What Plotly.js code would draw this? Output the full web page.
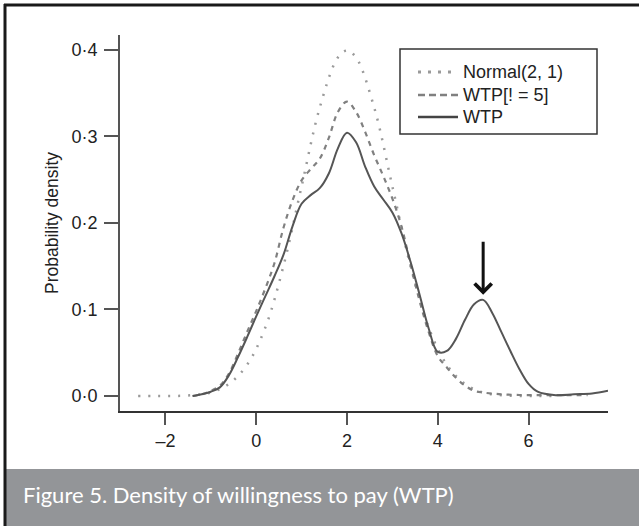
<!DOCTYPE html>
<html>
<head>
<meta charset="utf-8">
<script src="https://cdn.plot.ly/plotly-3.0.1.min.js"></script>
<style>
  html, body { margin: 0; padding: 0; background: #ffffff; }
  #chart { width: 639px; height: 526px; }
</style>
</head>
<body>
<div id="chart"></div>
<script>
// ---------------- data ----------------
const normalX = [-2.6, -2.2, -1.8, -1.4, -1.0, -0.6, -0.2, 0.2, 0.6, 1.0, 1.4, 1.8, 2.0, 2.2, 2.6, 3.0, 3.4, 3.8, 4.2, 4.6, 5.0, 5.4, 5.8, 6.2, 6.6];
const normalY = [0.000, 0.000, 0.000, 0.001, 0.004, 0.014, 0.036, 0.079, 0.150, 0.242, 0.333, 0.391, 0.399, 0.391, 0.333, 0.242, 0.150, 0.079, 0.036, 0.014, 0.004, 0.001, 0.000, 0.000, 0.000];

const wtpNo5X = [-1.4, -1.2, -1.0, -0.8, -0.6, -0.4, -0.2, 0.0, 0.2, 0.4, 0.6, 0.8, 1.0, 1.2, 1.4, 1.6, 1.8, 2.0, 2.2, 2.4, 2.6, 2.8, 3.0, 3.2, 3.4, 3.6, 3.8, 4.0, 4.2, 4.4, 4.6, 4.8, 5.0, 5.4, 6.0, 6.6, 7.3];
const wtpNo5Y = [0.000, 0.002, 0.006, 0.012, 0.026, 0.049, 0.074, 0.098, 0.124, 0.153, 0.194, 0.226, 0.249, 0.262, 0.274, 0.298, 0.328, 0.340, 0.328, 0.305, 0.278, 0.254, 0.228, 0.196, 0.152, 0.110, 0.074, 0.046, 0.033, 0.021, 0.012, 0.006, 0.004, 0.002, 0.001, 0.001, 0.001];

const wtpX = [-1.4, -1.2, -1.0, -0.8, -0.6, -0.4, -0.2, 0.0, 0.2, 0.4, 0.6, 0.8, 1.0, 1.2, 1.4, 1.6, 1.8, 2.0, 2.2, 2.4, 2.6, 2.8, 3.0, 3.2, 3.4, 3.6, 3.8, 4.0, 4.2, 4.4, 4.6, 4.8, 5.0, 5.2, 5.4, 5.6, 5.8, 6.0, 6.2, 6.6, 7.0, 7.4, 7.75];
const wtpY = [0.000, 0.002, 0.005, 0.010, 0.024, 0.045, 0.068, 0.092, 0.115, 0.138, 0.163, 0.196, 0.222, 0.232, 0.240, 0.257, 0.286, 0.304, 0.293, 0.265, 0.242, 0.227, 0.212, 0.188, 0.155, 0.117, 0.078, 0.051, 0.052, 0.066, 0.088, 0.106, 0.111, 0.096, 0.074, 0.052, 0.031, 0.014, 0.005, 0.001, 0.002, 0.003, 0.006];

const seriesNames = ['Normal(2, 1)', 'WTP[! = 5]', 'WTP'];
const xTickVals = [-2, 0, 2, 4, 6];
const xTickText = ['\u20132', '0', '2', '4', '6'];
const yTickVals = [0, 0.1, 0.2, 0.3, 0.4];
const yTickText = ['0\u00B70', '0\u00B71', '0\u00B72', '0\u00B73', '0\u00B74'];
const captionText = 'Figure 5. Density of willingness to pay (WTP)';
const yTitleText = 'Probability density';

// ---------------- layout geometry ----------------
const W = 639, H = 526;
const M = { l: 120, r: 31, t: 35, b: 115 };
const PW = W - M.l - M.r, PH = H - M.t - M.b;
const px = v => (v - M.l) / PW;          // pixel x -> paper x
const py = v => (H - M.b - v) / PH;      // pixel y -> paper y

// arrow points at the secondary mode of WTP (found from the data)
let peakI = 0;
wtpX.forEach((x, i) => { if (x > 4.2 && (peakI === 0 || wtpY[i] > wtpY[peakI])) peakI = i; });
const arrowX = wtpX[peakI], arrowTip = wtpY[peakI] + 0.006, arrowTail = wtpY[peakI] + 0.069;

const FONT = '"Liberation Sans", Arial, Helvetica, sans-serif';

const styles = [
  { color: '#9a9a9a', width: 2.5, dash: '2px,8px' },
  { color: '#808080', width: 2.2, dash: '5px,5px' },
  { color: '#555555', width: 2, dash: 'solid' }
];
const seriesX = [normalX, wtpNo5X, wtpX];
const seriesY = [normalY, wtpNo5Y, wtpY];

const traces = seriesNames.map((n, i) => ({
  x: seriesX[i], y: seriesY[i], name: n, type: 'scatter', mode: 'lines',
  showlegend: false,
  line: { color: styles[i].color, width: styles[i].width, dash: styles[i].dash, shape: 'spline', smoothing: 1 }
}));

// manual legend (box, sample lines, labels)
const legendRowsPx = [72, 95, 117];
const legendShapes = seriesNames.map((n, i) => ({
  type: 'line', xref: 'paper', yref: 'paper',
  x0: px(418), x1: px(458), y0: py(legendRowsPx[i]), y1: py(legendRowsPx[i]),
  line: { color: i === 2 ? '#444' : styles[i].color, width: i === 0 ? 3 : 2.6,
          dash: i === 0 ? '3px,7px' : (i === 1 ? '7px,4px' : 'solid') }
}));
const legendLabels = seriesNames.map((n, i) => ({
  text: n, xref: 'paper', yref: 'paper', x: px(461), y: py(legendRowsPx[i]),
  xanchor: 'left', yanchor: 'middle', showarrow: false,
  font: { family: FONT, size: 18, color: '#222' }
}));

const layout = {
  width: W, height: H,
  margin: M,
  paper_bgcolor: '#ffffff', plot_bgcolor: '#ffffff',
  font: { family: FONT, size: 18, color: '#222' },
  showlegend: false,
  xaxis: {
    range: [-3.0, 7.75], showgrid: false, zeroline: false,
    showline: true, linecolor: '#333', linewidth: 2,
    ticks: 'outside', ticklen: 12, tickwidth: 2, tickcolor: '#555',
    tickvals: xTickVals, ticktext: xTickText,
    tickfont: { family: FONT, size: 18, color: '#222' }
  },
  yaxis: {
    range: [-0.0173, 0.4169], showgrid: false, zeroline: false,
    showline: true, linecolor: '#555', linewidth: 2,
    ticks: 'outside', ticklen: 14, tickwidth: 2, tickcolor: '#555',
    tickvals: yTickVals, ticktext: yTickText,
    ticklabelstandoff: 3,
    tickfont: { family: FONT, size: 18, color: '#222' },
    title: { text: yTitleText, font: { family: FONT, size: 17.5, color: '#222' }, standoff: 8 }
  },
  shapes: [
    // caption band
    { type: 'rect', xref: 'paper', yref: 'paper', x0: px(5), x1: px(W + 2), y0: py(469), y1: py(H + 2),
      fillcolor: '#939598', line: { width: 0 }, layer: 'below' },
    // frame (left & top)
    { type: 'line', xref: 'paper', yref: 'paper', x0: px(5), x1: px(5), y0: py(4), y1: py(H + 2),
      line: { color: '#1a1a1a', width: 3 } },
    { type: 'line', xref: 'paper', yref: 'paper', x0: px(4), x1: px(W + 2), y0: py(5), y1: py(5),
      line: { color: '#1a1a1a', width: 3 } },
    // legend box
    { type: 'rect', xref: 'paper', yref: 'paper', x0: px(400), x1: px(597), y0: py(49), y1: py(134),
      fillcolor: 'rgba(0,0,0,0)', line: { color: '#333', width: 1.5 } }
  ].concat(legendShapes),
  annotations: [
    { text: captionText, xref: 'paper', yref: 'paper', x: px(21), y: py(494),
      xanchor: 'left', yanchor: 'middle', showarrow: false,
      font: { family: 'Lato, "Open Sans", sans-serif', size: 22, color: '#ffffff' } },
    { x: arrowX, y: arrowTip, ax: arrowX, ay: arrowTail, xref: 'x', yref: 'y', axref: 'x', ayref: 'y',
      showarrow: true, arrowhead: 4, arrowsize: 1.1, arrowwidth: 3, arrowcolor: '#111', text: '' }
  ].concat(legendLabels)
};

Plotly.newPlot('chart', traces, layout, { displayModeBar: false, staticPlot: true });
</script>
</body>
</html>
